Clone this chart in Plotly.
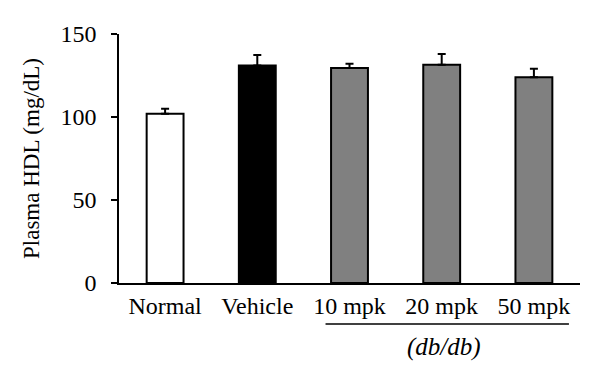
import plotly.graph_objects as go

categories = ["Normal", "Vehicle", "10 mpk", "20 mpk", "50 mpk"]
hdl_mean = [102, 131, 129.5, 131.5, 124]
hdl_sem = [3, 6.4, 2.6, 6.5, 5]
bar_colors = ["#ffffff", "#000000", "#808080", "#808080", "#808080"]
y_ticks = [0, 50, 100, 150]
group_label = "(db/db)"

FONT = "Liberation Serif"
TICK_SIZE = 24
TITLE_SIZE = 23

fig = go.Figure()
fig.add_trace(go.Bar(
    x=categories,
    y=hdl_mean,
    width=0.4,
    marker=dict(color=bar_colors, line=dict(color="black", width=2)),
    error_y=dict(type="data", array=hdl_sem, arrayminus=[0] * len(hdl_sem),
                 symmetric=False, color="black", thickness=2, width=4),
))

fig.add_shape(type="line", xref="x", yref="paper",
              x0=1.74, x1=4.38, y0=-0.165, y1=-0.165,
              line=dict(color="black", width=1.5))
fig.add_annotation(text="<i>" + group_label + "</i>", xref="x", yref="paper",
                   x=3.02, y=-0.257, yanchor="middle", xanchor="center",
                   showarrow=False,
                   font=dict(family=FONT, size=25, color="black"))

fig.update_layout(
    width=600, height=388,
    margin=dict(l=119, r=20, t=34, b=105),
    plot_bgcolor="white", paper_bgcolor="white",
    showlegend=False,
    font=dict(family=FONT, size=TICK_SIZE, color="black"),
)
fig.update_xaxes(
    type="category", range=[-0.5, 4.5], automargin=False,
    showline=True, linecolor="black", linewidth=1.5,
    ticks="", showgrid=False, zeroline=False,
    ticklabelstandoff=0,
    tickfont=dict(family=FONT, size=TICK_SIZE, color="black"),
)
fig.update_yaxes(
    range=[0, 150], tickvals=y_ticks, automargin=False,
    showline=True, linecolor="black", linewidth=1.5,
    ticks="outside", ticklen=6, tickwidth=1.5, tickcolor="black",
    showgrid=False, zeroline=False,
    ticklabelstandoff=10,
    title=dict(text="Plasma HDL (mg/dL)", standoff=14,
               font=dict(family=FONT, size=TITLE_SIZE, color="black")),
    tickfont=dict(family=FONT, size=TICK_SIZE, color="black"),
)

fig.write_html("out.html",
               config={"displayModeBar": False},
               post_script="document.body.style.margin='0';")
